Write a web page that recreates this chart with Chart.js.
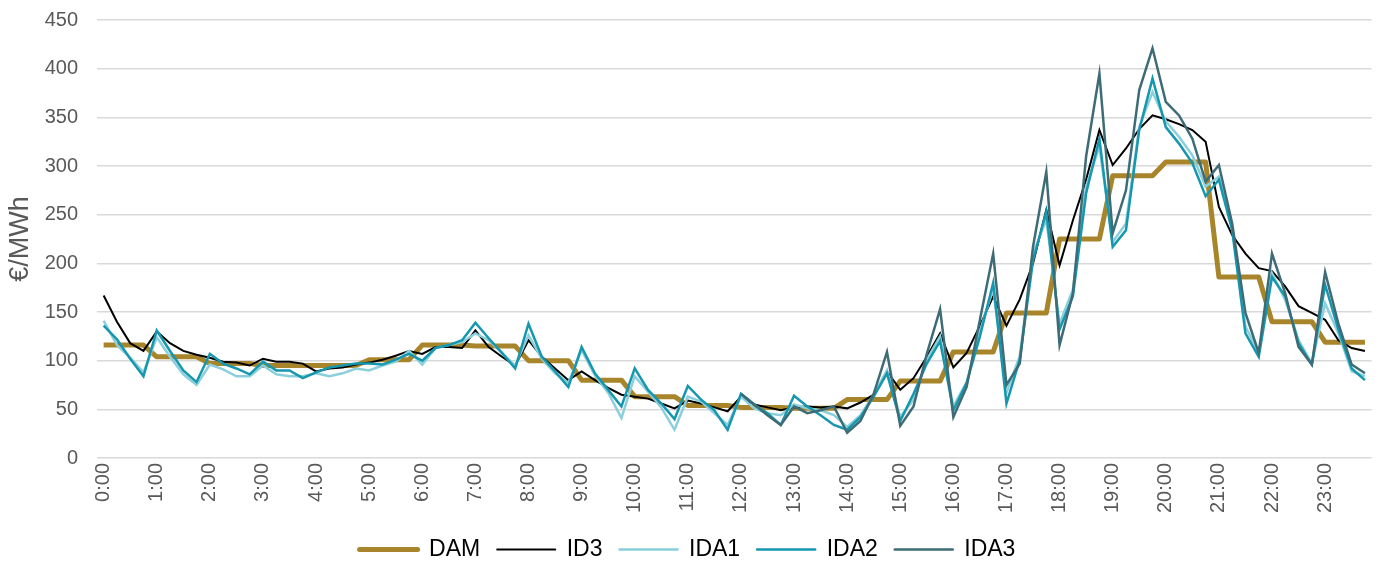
<!DOCTYPE html>
<html>
  <head>
    <script src="https://cdn.jsdelivr.net/npm/chart.js@4.4.1/dist/chart.umd.min.js"></script>
    <style>
      body {
        margin: 0;
        background: #ffffff;
      }

      /* CSS for the chart container */
      .chart-container {
        width: 1386px;
        height: 567px;
      }
    </style>
  </head>
  <body>
    <div class="chart-container">
      <canvas id="myChart"></canvas>
    </div>
    <script>
      // Hour tick labels (one every 4 quarter-hours)
      var hourLabels = [
        "0:00", "1:00", "2:00", "3:00", "4:00", "5:00", "6:00", "7:00",
        "8:00", "9:00", "10:00", "11:00", "12:00", "13:00", "14:00", "15:00",
        "16:00", "17:00", "18:00", "19:00", "20:00", "21:00", "22:00", "23:00"
      ];
      var quarters = ["00", "15", "30", "45"];

      // Prices in €/MWh, one value per quarter-hour (96 slots)
      var dam = [
        116, 116, 116, 116, 104, 104, 104, 104, 97, 97, 97, 97, 95, 95, 95, 95,
        95, 95, 95, 95, 101, 101, 101, 101, 116, 116, 116, 116, 115, 115, 115, 115,
        100, 100, 100, 100, 80, 80, 80, 80, 63, 63, 63, 63, 54, 54, 54, 54,
        52, 52, 52, 52, 51, 51, 51, 51, 60, 60, 60, 60, 79, 79, 79, 79,
        109, 109, 109, 109, 149, 149, 149, 149, 225, 225, 225, 225, 290, 290, 290, 290,
        304, 304, 304, 304, 186, 186, 186, 186, 140, 140, 140, 140, 119, 119, 119, 119
      ];
      var id3 = [
        167, 140, 118, 110, 130, 118, 110, 106, 103, 99, 98, 95, 102, 99, 99, 97,
        89, 92, 93, 96, 98, 101, 105, 110, 107, 114, 114, 113, 131, 114, 104, 95,
        121, 104, 92, 80, 89, 80, 72, 65, 63, 61, 56, 51, 59, 56, 52, 48,
        63, 55, 52, 49, 52, 53, 52, 53, 51, 57, 65, 89, 70, 82, 104, 128,
        93, 108, 136, 166, 136, 163, 200, 255, 198, 244, 286, 337, 301, 318, 338, 352,
        348, 343, 337, 325, 258, 229, 210, 195, 192, 176, 156, 149, 142, 121, 113, 110
      ];
      var ida1 = [
        141, 116, 103, 88, 124, 104, 86, 75, 96, 91, 84, 84, 95, 86, 84, 84,
        87, 84, 87, 92, 90, 95, 99, 110, 96, 113, 116, 119, 128, 121, 108, 95,
        126, 102, 87, 77, 111, 85, 67, 41, 84, 68, 52, 29, 63, 58, 46, 34,
        63, 51, 46, 44, 55, 51, 49, 44, 32, 44, 65, 90, 42, 60, 101, 125,
        53, 78, 130, 174, 67, 105, 210, 245, 138, 173, 279, 320, 222, 241, 340, 376,
        346, 330, 311, 279, 289, 238, 135, 108, 190, 162, 121, 97, 159, 128, 89, 84
      ];
      var ida2 = [
        136, 122, 102, 84, 131, 110, 90, 78, 107, 97, 92, 86, 99, 90, 90, 82,
        88, 93, 95, 97, 97, 96, 101, 107, 100, 113, 116, 121, 139, 123, 108, 92,
        138, 104, 89, 73, 114, 87, 70, 53, 92, 70, 56, 40, 74, 60, 49, 29,
        66, 55, 46, 34, 64, 53, 44, 34, 29, 42, 63, 87, 38, 66, 97, 120,
        49, 77, 125, 180, 56, 101, 203, 253, 132, 166, 272, 328, 217, 234, 337, 390,
        340, 323, 303, 269, 286, 234, 128, 104, 186, 166, 118, 96, 178, 132, 92, 80
      ];
      // IDA3 only covers the second half of the day
      var ida3 = [
        null, null, null, null, null, null, null, null, null, null, null, null, null, null, null, null,
        null, null, null, null, null, null, null, null, null, null, null, null, null, null, null, null,
        null, null, null, null, null, null, null, null, null, null, null, null, null, null, null, null,
        66, 55, 44, 34, 53, 46, 49, 53, 26, 38, 66, 109, 33, 53, 107, 153,
        42, 73, 142, 210, 75, 97, 217, 294, 116, 169, 310, 395, 231, 275, 378, 421,
        366, 352, 328, 284, 301, 241, 149, 108, 210, 169, 114, 96, 191, 138, 96, 87
      ];

      // Quarter-hour categories
      var slots = [];
      for (var h = 0; h < hourLabels.length; h++) {
        for (var q = 0; q < quarters.length; q++) {
          slots.push(h + ":" + quarters[q]);
        }
      }

      var textColor = "#595959";
      var fontFamily = "'Liberation Sans', Arial, sans-serif";

      var ctx = document.getElementById("myChart").getContext("2d");

      var chart = new Chart(ctx, {
        type: "line",
        data: {
          labels: slots,
          datasets: [
            { label: "DAM", data: dam, borderColor: "#A8852A", borderWidth: 5, order: 5, borderJoinStyle: "round" },
            { label: "ID3", data: id3, borderColor: "#000000", borderWidth: 2, order: 4 },
            { label: "IDA1", data: ida1, borderColor: "#8ACFDB", borderWidth: 2.5, order: 3 },
            { label: "IDA2", data: ida2, borderColor: "#1697AE", borderWidth: 2.5, order: 2 },
            { label: "IDA3", data: ida3, borderColor: "#3E6C76", borderWidth: 2.5, order: 1 },
          ],
        },
        options: {
          responsive: true,
          maintainAspectRatio: false,
          animation: false,
          layout: {
            autoPadding: false,
            padding: { top: 20, right: 11, bottom: -4, left: 0 },
          },
          elements: {
            point: { radius: 0 },
            line: { tension: 0, fill: false },
          },
          plugins: {
            tooltip: { enabled: false },
            legend: {
              position: "bottom",
              labels: {
                usePointStyle: true,
                pointStyleWidth: 58,
                padding: 17,
                color: textColor,
                font: { family: fontFamily, size: 23 },
                generateLabels: function (chart) {
                  // keep series order, draw short line samples
                  return chart.data.datasets.map(function (ds, i) {
                    return {
                      text: ds.label,
                      fillStyle: ds.borderColor,
                      strokeStyle: ds.borderColor,
                      lineWidth: ds.borderWidth,
                      lineCap: "round",
                      pointStyle: "line",
                      hidden: false,
                      datasetIndex: i,
                    };
                  });
                },
              },
            },
          },
          scales: {
            x: {
              offset: true,
              grid: { display: false },
              border: { display: false },
              ticks: {
                autoSkip: false,
                minRotation: 90,
                maxRotation: 90,
                padding: -3,
                color: textColor,
                font: { family: fontFamily, size: 20 },
                callback: function (value, index) {
                  return index % 4 === 0 ? hourLabels[index / 4] : "";
                },
              },
              afterFit: function (scale) {
                scale.height = 63;
              },
            },
            y: {
              min: 0,
              max: 450,
              // invisible tick marks keep the labels away from the plot
              grid: {
                color: "#d9d9d9",
                lineWidth: 1.5,
                drawTicks: true,
                tickLength: 19,
                tickColor: "rgba(0,0,0,0)",
              },
              border: { display: false },
              ticks: {
                stepSize: 50,
                padding: 0,
                color: textColor,
                font: { family: fontFamily, size: 20 },
              },
              title: {
                display: true,
                text: "€/MWh",
                color: textColor,
                font: { family: fontFamily, size: 27 },
              },
              afterFit: function (scale) {
                scale.width = 97;
              },
            },
          },
        },
      });
    </script>
  </body>
</html>
